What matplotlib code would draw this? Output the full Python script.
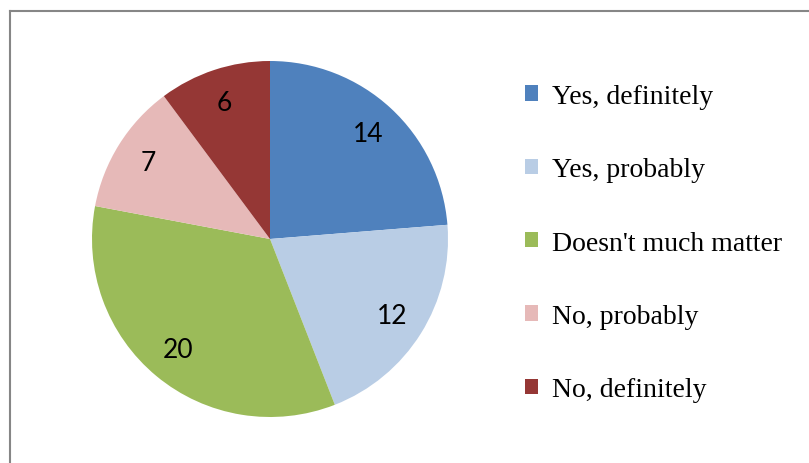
import matplotlib
matplotlib.use("Agg")
import matplotlib.pyplot as plt
from matplotlib.lines import Line2D

# данные
categories = ["Yes, definitely", "Yes, probably", "Doesn't much matter",
              "No, probably", "No, definitely"]
values = [14, 12, 20, 7, 6]
colors = ["#4F81BD", "#B9CDE5", "#9BBB59", "#E6B9B8", "#953735"]

W, H = 809, 464
fig = plt.figure(figsize=(W / 100, H / 100), dpi=100)

# рамка: видны только верхний и левый края
top, left = 1 - 12 / H, 10 / W
for xs, ys in [((left, 1), (top, top)), ((left, left), (top, 0))]:
    fig.add_artist(Line2D(xs, ys, transform=fig.transFigure,
                          color="#868686", lw=1.5))

cx, cy, r = 270, 240, 178
ax = fig.add_axes([(cx - r) / W, (H - cy - r) / H, 2 * r / W, 2 * r / H])
total = sum(values)
wedges, _, autotexts = ax.pie(
    values, colors=colors, startangle=90, counterclock=False,
    autopct=lambda p: f"{round(p * total / 100):d}", pctdistance=0.81,
    wedgeprops=dict(linewidth=0),
    textprops=dict(fontsize=19, family="Lato", color="black"))
ax.set_xlim(-1, 1); ax.set_ylim(-1, 1)
ax.set_aspect("equal")

leg = fig.legend(wedges, categories, loc="upper left",
                 bbox_to_anchor=(525 / W, 1 - 85 / H), frameon=False,
                 prop=dict(family="Liberation Serif", size=20),
                 handlelength=0.47, handleheight=0.47, handletextpad=0.5,
                 labelspacing=1.74, borderpad=0, borderaxespad=0)

fig.savefig("out.png", dpi=100)
